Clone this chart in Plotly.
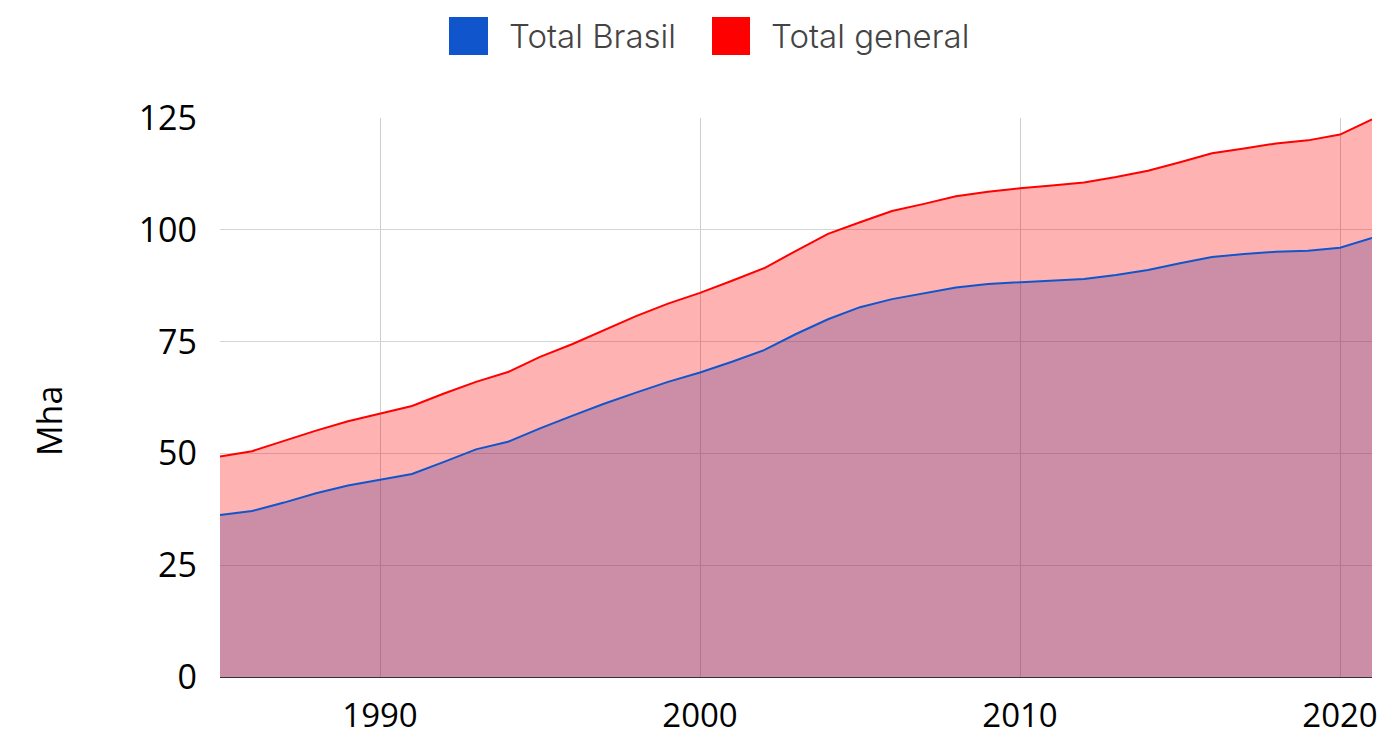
import plotly.graph_objects as go

years = list(range(1985, 2022))
total_brasil = [36.2, 37.1, 39.0, 41.1, 42.8, 44.1, 45.4, 48.1, 50.9, 52.6,
                55.6, 58.4, 61.1, 63.6, 66.0, 68.1, 70.5, 73.1, 76.7, 80.0,
                82.7, 84.5, 85.8, 87.1, 87.9, 88.3, 88.6, 89.0, 89.9, 91.0,
                92.5, 93.9, 94.6, 95.1, 95.3, 96.0, 98.2]
total_general = [49.3, 50.5, 52.8, 55.1, 57.2, 58.9, 60.6, 63.4, 66.0, 68.2,
                 71.6, 74.4, 77.5, 80.7, 83.5, 85.9, 88.6, 91.4, 95.3, 99.1,
                 101.7, 104.2, 105.8, 107.5, 108.5, 109.3, 109.9, 110.6, 111.8, 113.2,
                 115.1, 117.1, 118.2, 119.3, 120.0, 121.3, 124.7]
series_names = ["Total Brasil", "Total general"]
series_colors = ["#1155cc", "#ff0000"]
fill_colors = ["rgba(17,85,204,0.3)", "rgba(255,0,0,0.3)"]
y_ticks = [0, 25, 50, 75, 100, 125]
x_ticks = [1990, 2000, 2010, 2020]

W, H = 1383, 736
PL, PR, PT, PB = 220, 1372, 118, 677  # plot area in page pixels
L, T, R, B = PL, PT, W - PR, H - PB
PW, PH = PR - PL, PB - PT

def px_x(p):
    return (p - PL) / PW

def px_y(p):
    return (PB - p) / PH

fig = go.Figure()
for vals, fc in zip([total_brasil, total_general], fill_colors):
    fig.add_trace(go.Scatter(x=years, y=vals, mode="lines", fill="tozeroy",
                             fillcolor=fc, line=dict(width=0), showlegend=False,
                             hoverinfo="skip"))
for vals, name, col in zip([total_brasil, total_general], series_names, series_colors):
    fig.add_trace(go.Scatter(x=years, y=vals, mode="lines", name=name,
                             line=dict(color=col, width=2), showlegend=False))

# manual legend (page pixel positions)
legend_items = [(449, 488, 507), (712, 750, 769)]
shapes = []
annotations = []
for (x0, x1, tx), name, col in zip(legend_items, series_names, series_colors):
    shapes.append(dict(type="rect", xref="paper", yref="paper",
                       x0=px_x(x0), x1=px_x(x1), y0=px_y(55), y1=px_y(17),
                       fillcolor=col, line=dict(width=0)))
    annotations.append(dict(text=name, xref="paper", yref="paper",
                            x=px_x(tx), y=px_y(36), xanchor="left", yanchor="middle",
                            showarrow=False,
                            font=dict(family="Inter", size=33, color="#444444", weight=300)))
annotations.append(dict(text="Mha", xref="paper", yref="paper", x=px_x(49), y=px_y(421),
                        xanchor="center", yanchor="middle", textangle=-90, showarrow=False,
                        font=dict(family="Open Sans", size=34, color="#000000")))

fig.update_layout(
    width=W, height=H,
    margin=dict(l=L, r=R, t=T, b=B, autoexpand=False),
    plot_bgcolor="#ffffff", paper_bgcolor="#ffffff",
    shapes=shapes, annotations=annotations,
    showlegend=False,
    font=dict(family="Open Sans", size=34, color="#000000"),
)
fig.update_xaxes(range=[1985, 2021], tickvals=x_ticks, showgrid=True, gridcolor="#cccccc",
                 gridwidth=1, zeroline=False, showline=True, linecolor="#333333", linewidth=1,
                 ticks="", ticklabelstandoff=9, tickfont=dict(size=33), automargin=False)
fig.update_yaxes(range=[0, 125], tickvals=y_ticks, showgrid=True, gridcolor="#d4d4d4",
                 gridwidth=1, zeroline=False, showline=False, ticks="",
                 ticklabelstandoff=22, tickfont=dict(size=34), automargin=False)

fig.write_html("out.html", config={"displayModeBar": False},
               post_script="document.body.style.margin='0';document.body.style.overflow='hidden';")
